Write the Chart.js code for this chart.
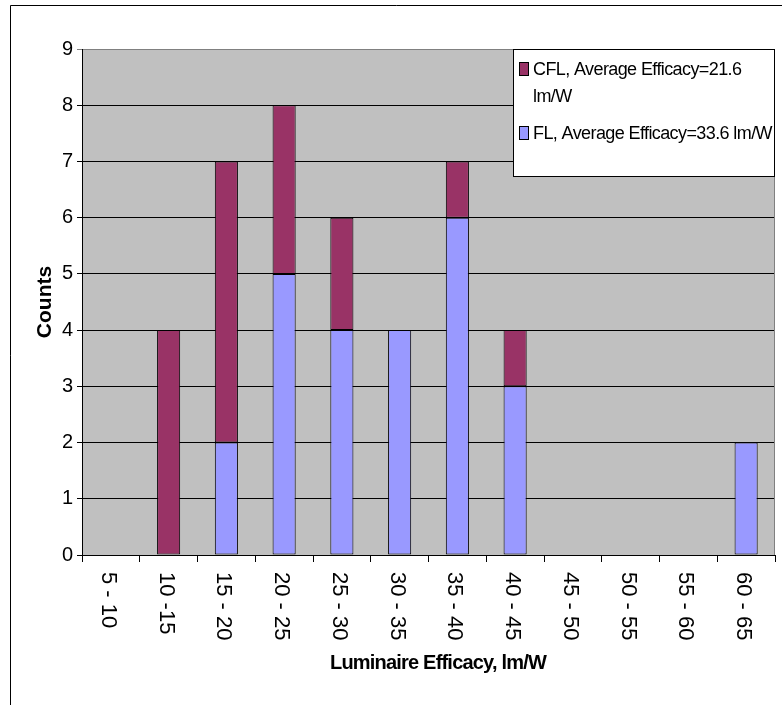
<!DOCTYPE html>
<html>
<head>
<meta charset="utf-8">
<title>Luminaire Efficacy</title>
<script src="https://cdn.jsdelivr.net/npm/chart.js@4"></script>
<style>
  html, body { margin: 0; padding: 0; background: #fff; }
  canvas { display: block; }
</style>
</head>
<body>
<canvas id="efficacyChart" width="782" height="705"></canvas>
<script>
// efficacy bins, lm/W
const categories = ['5 - 10', '10 -15', '15 - 20', '20 - 25', '25 - 30', '30 - 35',
                    '35 - 40', '40 - 45', '45 - 50', '50 - 55', '55 - 60', '60 - 65'];
const flCounts  = [0, 0, 2, 5, 4, 4, 6, 3, 0, 0, 0, 2];
const cflCounts = [0, 4, 5, 3, 2, 0, 1, 1, 0, 0, 0, 0];
const yTicks = [0, 1, 2, 3, 4, 5, 6, 7, 8, 9];

const cflLegend = ['CFL, Average Efficacy=21.6', 'lm/W'];
const flLegend  = ['FL, Average Efficacy=33.6 lm/W'];

const FONT = "'Liberation Sans', Arial, sans-serif";

// white page, outer frame and grey plot area
const backdrop = {
  id: 'backdrop',
  beforeDraw(chart) {
    const { ctx, chartArea: a } = chart;
    ctx.save();
    ctx.fillStyle = '#fff';
    ctx.fillRect(0, 0, chart.width, chart.height);
    ctx.strokeStyle = '#000';
    ctx.lineWidth = 1;
    ctx.beginPath();
    ctx.moveTo(10.5, chart.height);
    ctx.lineTo(10.5, 5.5);
    ctx.lineTo(chart.width, 5.5);
    ctx.stroke();
    ctx.fillStyle = '#C0C0C0';
    ctx.fillRect(a.left, a.top, a.right - a.left, a.bottom - a.top);
    ctx.restore();
  }
};

// rotated category labels, titles and the boxed legend
const decorations = {
  id: 'decorations',
  afterDraw(chart) {
    const { ctx, chartArea: a } = chart;
    const xs = chart.scales.x;
    ctx.save();

    ctx.strokeStyle = '#808080';
    ctx.lineWidth = 1;
    ctx.beginPath();
    ctx.moveTo(a.right - 0.5, a.top);
    ctx.lineTo(a.right - 0.5, a.bottom);
    ctx.stroke();

    ctx.fillStyle = '#000';
    ctx.font = '22px ' + FONT;
    ctx.textAlign = 'left';
    ctx.textBaseline = 'middle';
    categories.forEach((c, i) => {
      ctx.save();
      ctx.translate(xs.getPixelForValue(i) - 3, xs.top + 17);
      ctx.rotate(Math.PI / 2);
      ctx.fillText(c, 0, 0);
      ctx.restore();
    });

    ctx.font = 'bold 20px ' + FONT;
    ctx.letterSpacing = '-0.8px';
    ctx.textAlign = 'center';
    ctx.fillText('Luminaire Efficacy, lm/W', 438, 663);
    ctx.font = 'bold 21px ' + FONT;
    ctx.letterSpacing = '0px';
    ctx.save();
    ctx.translate(45, (a.top + a.bottom) / 2);
    ctx.rotate(-Math.PI / 2);
    ctx.fillText('Counts', 0, 0);
    ctx.restore();

    // legend box in the top-right corner of the plot
    const lx = a.right - 262, ly = a.top;
    ctx.fillStyle = '#fff';
    ctx.fillRect(lx, ly, 262, 128);
    ctx.strokeStyle = '#000';
    ctx.strokeRect(lx + 0.5, ly + 0.5, 261, 127);

    const entries = [
      { lines: cflLegend, color: '#993366', y: ly + 26 },
      { lines: flLegend,  color: '#9999FF', y: ly + 90 }
    ];
    ctx.font = '18px ' + FONT;
    ctx.letterSpacing = '-0.6px';
    ctx.textAlign = 'left';
    ctx.textBaseline = 'alphabetic';
    entries.forEach(e => {
      ctx.fillStyle = e.color;
      ctx.fillRect(lx + 6, e.y - 13, 10, 14);
      ctx.strokeStyle = '#000';
      ctx.strokeRect(lx + 6.5, e.y - 12.5, 9, 13);
      ctx.fillStyle = '#000';
      e.lines.forEach((t, k) => ctx.fillText(t, lx + 20, e.y + k * 27));
    });
    ctx.restore();
  }
};

new Chart(document.getElementById('efficacyChart'), {
  type: 'bar',
  data: {
    labels: categories,
    datasets: [{
      label: flLegend.join(' '),
      data: flCounts,
      backgroundColor: '#9999FF',
      borderColor: '#000',
      borderWidth: 1,
      borderSkipped: false
    }, {
      label: cflLegend.join(' '),
      data: cflCounts,
      backgroundColor: '#993366',
      borderColor: '#000',
      borderWidth: 1,
      borderSkipped: false
    }]
  },
  options: {
    responsive: false,
    animation: false,
    layout: { padding: { left: 0, top: 49, right: 7, bottom: 0 } },
    datasets: { bar: { barPercentage: 0.4, categoryPercentage: 1 } },
    plugins: { legend: { display: false }, tooltip: { enabled: false } },
    scales: {
      x: {
        stacked: true,
        afterFit: s => { s.height = 150; },
        ticks: { display: false },
        border: { display: false },
        grid: { offset: true, drawOnChartArea: false, drawTicks: true, tickLength: 7, color: '#000' }
      },
      y: {
        stacked: true,
        min: 0,
        max: 9,
        afterFit: s => { s.width = 82; },
        afterBuildTicks: s => { s.ticks = yTicks.map(v => ({ value: v })); },
        ticks: { color: '#000', padding: 4, font: { family: FONT, size: 20 } },
        border: { color: '#000' },
        grid: {
          tickLength: 5,
          color: c => (c.tick && c.tick.value === 9 ? '#808080' : '#000')
        }
      }
    }
  },
  plugins: [backdrop, decorations]
});
</script>
</body>
</html>
